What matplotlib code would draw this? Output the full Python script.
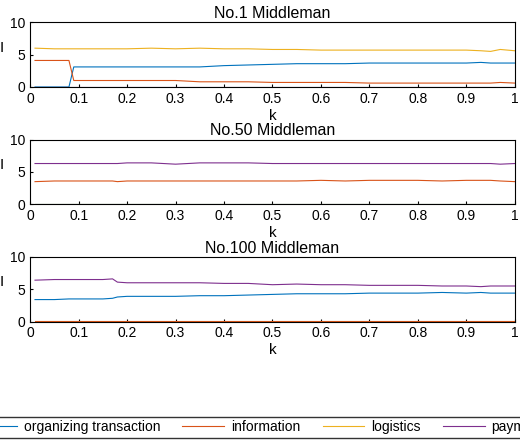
import matplotlib
matplotlib.use("Agg")
import matplotlib.pyplot as plt

k = [0.01, 0.05, 0.08, 0.09, 0.15, 0.17, 0.18, 0.2, 0.25, 0.3, 0.35, 0.4, 0.45, 0.5,
     0.55, 0.6, 0.65, 0.7, 0.75, 0.8, 0.85, 0.9, 0.93, 0.95, 0.97, 1.0]

# panel 1
p1_org = [0, 0, 0, 3.1, 3.1, 3.1, 3.1, 3.1, 3.1, 3.1, 3.1, 3.3, 3.4, 3.5,
          3.6, 3.6, 3.6, 3.7, 3.7, 3.7, 3.7, 3.7, 3.8, 3.7, 3.7, 3.7]
p1_inf = [4.1, 4.1, 4.1, 1.0, 1.0, 1.0, 1.0, 1.0, 1.0, 1.0, 0.8, 0.8, 0.8, 0.7,
          0.7, 0.7, 0.7, 0.6, 0.6, 0.6, 0.6, 0.6, 0.6, 0.6, 0.7, 0.6]
p1_log = [6.0, 5.9, 5.9, 5.9, 5.9, 5.9, 5.9, 5.9, 6.0, 5.9, 6.0, 5.9, 5.9, 5.8,
          5.8, 5.7, 5.7, 5.7, 5.7, 5.7, 5.7, 5.7, 5.6, 5.5, 5.8, 5.6]
p1_pay = [0] * len(k)
# panel 2
p2_org = [0.05] * len(k)
p2_inf = [3.5, 3.6, 3.6, 3.6, 3.6, 3.6, 3.5, 3.6, 3.6, 3.6, 3.6, 3.6, 3.6, 3.6,
          3.6, 3.7, 3.6, 3.7, 3.7, 3.7, 3.6, 3.7, 3.7, 3.7, 3.6, 3.5]
p2_log = [0.1] * len(k)
p2_pay = [6.3, 6.3, 6.3, 6.3, 6.3, 6.3, 6.3, 6.4, 6.4, 6.2, 6.4, 6.4, 6.4, 6.3,
          6.3, 6.3, 6.3, 6.3, 6.3, 6.3, 6.3, 6.3, 6.3, 6.3, 6.2, 6.3]
# panel 3
p3_org = [3.4, 3.4, 3.5, 3.5, 3.5, 3.6, 3.8, 3.9, 3.9, 3.9, 4.0, 4.0, 4.1, 4.2,
          4.3, 4.3, 4.3, 4.4, 4.4, 4.4, 4.5, 4.4, 4.5, 4.4, 4.4, 4.4]
p3_inf = [0.1] * len(k)
p3_log = [0.0] * len(k)
p3_pay = [6.4, 6.5, 6.5, 6.5, 6.5, 6.6, 6.1, 6.0, 6.0, 6.0, 6.0, 5.9, 5.9, 5.7,
          5.8, 5.7, 5.7, 5.6, 5.6, 5.6, 5.5, 5.5, 5.4, 5.5, 5.5, 5.5]

titles = ["No.1 Middleman", "No.50 Middleman", "No.100 Middleman"]
panels = [(p1_org, p1_inf, p1_log, p1_pay), (p2_org, p2_inf, p2_log, p2_pay),
          (p3_org, p3_inf, p3_log, p3_pay)]
names = ["organizing transaction", "information", "logistics", "payment"]
colors = ["#0072BD", "#D95319", "#EDB120", "#7E2F8E"]

plt.rcParams["font.family"] = "Liberation Sans"
fig = plt.figure(figsize=(5.2, 4.46), dpi=100)
tops = [0.95, 0.687, 0.424]
h = 0.145
for i, (title, series) in enumerate(zip(titles, panels)):
    ax = fig.add_axes([0.058, tops[i] - h, 0.932, h])
    for vals, c, n in zip(series, colors, names):
        ax.plot(k, vals, color=c, lw=0.8, label=n)
    ax.set_xlim(0, 1)
    ax.set_ylim(0, 10)
    ax.set_yticks([0, 5, 10])
    ax.set_xticks([i / 10 for i in range(11)])
    ax.set_xticklabels(["0", "0.1", "0.2", "0.3", "0.4", "0.5", "0.6", "0.7", "0.8", "0.9", "1"])
    ax.tick_params(labelsize=10, direction="in", length=2)
    ax.set_title(title, fontsize=11.5, pad=3)
    ax.set_xlabel("k", fontsize=11, labelpad=2)
    ax.set_ylabel("I", fontsize=11, rotation=0, labelpad=6)
    if i == 2:
        handles, labels = ax.get_legend_handles_labels()

fig.legend(handles, labels, loc="lower center", bbox_to_anchor=(0.5, 0.003), ncol=4,
           fontsize=10, frameon=True, fancybox=False, edgecolor="black",
           handlelength=3.0, columnspacing=1.6, handletextpad=0.5, borderpad=0.25)
fig.savefig("out.png")
